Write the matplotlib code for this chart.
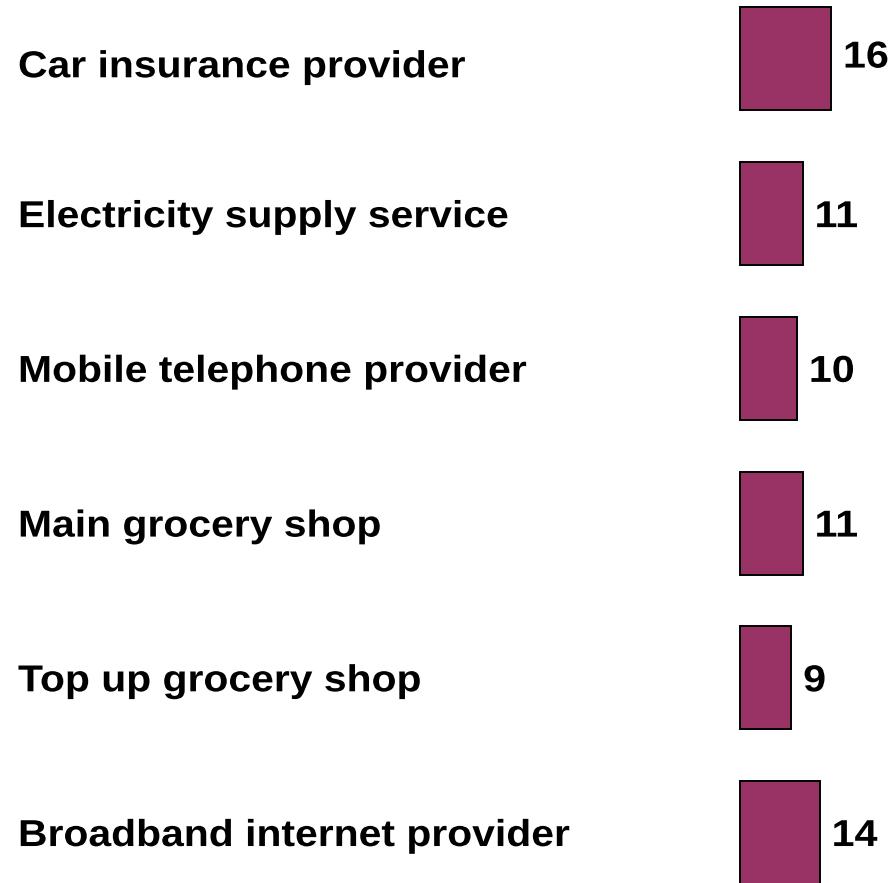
import matplotlib.pyplot as plt
import matplotlib.transforms as mtransforms
from matplotlib.patheffects import AbstractPathEffect

# data
categories = ["Car insurance provider", "Electricity supply service",
              "Mobile telephone provider", "Main grocery shop",
              "Top up grocery shop", "Broadband internet provider"]
values = [16, 11, 10, 11, 9, 14]

plt.rcParams['font.family'] = ['Liberation Sans', 'DejaVu Sans']


# the original text is a bit wider than Liberation Sans, stretch it sideways
class Stretch(AbstractPathEffect):
    def __init__(self, sx):
        super().__init__()
        self.sx = sx

    def draw_path(self, renderer, gc, tpath, affine, rgbFace=None):
        renderer.draw_path(gc, tpath, mtransforms.Affine2D().scale(self.sx, 1) + affine, rgbFace)


fig = plt.figure(figsize=(8.91, 8.83), dpi=100)
ax = fig.add_axes([0, 0, 1, 1])
ax.axis('off')

pos = list(range(len(categories)))
ax.barh(pos, values, height=0.666, color='#993366', edgecolor='black', linewidth=1.4)

ax.set_xlim(-130.05, 26.54)
ax.set_ylim(5.326, -0.381)

# first row labels sit a little off centre in the original
text_dy = {0: -3.5}
num_dy = {0: 3.5}

trans = mtransforms.blended_transform_factory(ax.transAxes, ax.transData)
for i, name in enumerate(categories):
    ax.annotate(name, (18 / 891, i), xycoords=trans, xytext=(0, -9.7 + text_dy.get(i, 0)),
                textcoords='offset points', ha='left', va='baseline',
                fontsize=27, fontweight='bold', path_effects=[Stretch(1.09)])

for i, v in enumerate(values):
    ax.annotate(str(v), (v, i), xytext=(8.6, -9.7 + num_dy.get(i, 0)), textcoords='offset points',
                ha='left', va='baseline', fontsize=27, fontweight='bold',
                path_effects=[Stretch(1.1)])

fig.savefig("out.png", dpi=100)
